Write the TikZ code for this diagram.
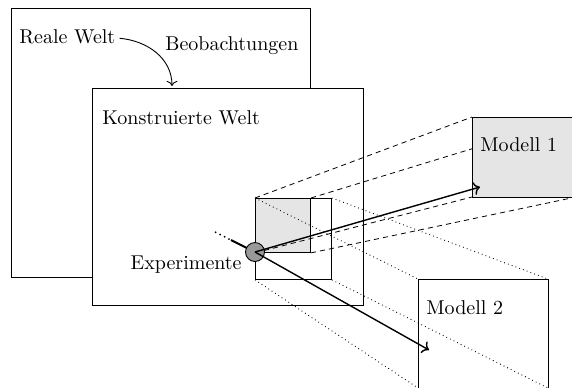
\documentclass[tikz,border=0pt]{standalone}
\usetikzlibrary{arrows.meta}
\definecolor{lightfill}{gray}{0.9}
\definecolor{expfill}{gray}{0.6}
\tikzset{
  frame/.style={draw=black, line width=0.45pt, inner sep=0pt, anchor=north west},
  label/.style={inner sep=0pt},
  proj/.style={line width=0.4pt, dash pattern=on 2.6pt off 2pt},
  projdot/.style={line width=0.45pt, dash pattern=on 0.4pt off 1.6pt},
  modelarrow/.style={->, line width=0.7pt},
}
\begin{document}
\begin{tikzpicture}[x=0.5pt, y=-0.5pt, font=\normalsize]
\useasboundingbox (0,0) rectangle (572,387);
\clip (0,0) rectangle (572,387);

% the real world and the constructed world
\node[frame, fill=white, minimum width=149.5pt, minimum height=134.5pt] (real) at (11,8) {};
\node[frame, fill=white, minimum width=135.5pt, minimum height=108.5pt] (konst) at (92,88) {};

% experiment window, its part inside the real world shaded
\node[frame, minimum width=38pt, minimum height=40.5pt] (win) at (255,198) {};
\node[frame, fill=lightfill, minimum width=27.5pt, minimum height=27pt] (part) at (255,198) {};

% corners of the two models
\coordinate (m1tl) at (472,117);
\coordinate (m1tr) at (576,117);
\coordinate (m1bl) at (472,197);
\coordinate (m1br) at (576,197);
\coordinate (m2tl) at (418,279);
\coordinate (m2tr) at (548,279);
\coordinate (m2bl) at (418,388);
\coordinate (m2br) at (548,388);

% projection of the shaded part onto model 1
\draw[proj] (part.north west) -- (m1tl);
\draw[proj] (part.north east) -- (m1tr);
\draw[proj] (part.south west) -- (m1bl);
\draw[proj] (part.south east) -- (m1br);

\node[frame, fill=lightfill, minimum width=52pt, minimum height=40pt] (m1) at (m1tl) {};
\node[frame, fill=white, minimum width=65pt, minimum height=54.5pt] (m2) at (m2tl) {};

% projection of the whole window onto model 2
\draw[projdot] (win.north west) -- (m2tl);
\draw[projdot] (win.north east) -- (m2tr);
\draw[projdot] (win.south west) -- (m2bl);
\draw[projdot] (win.south east) -- (m2br);

% labels
\node[label, anchor=base west] (rw) at (19,43) {Reale Welt};
\node[label, anchor=base west] (obs) at (165,50) {Beobachtungen};
\node[label, anchor=base west] (kw) at (102,124) {Konstruierte Welt};
\node[label, anchor=base west] (m1lab) at (480,151) {Modell 1};
\node[label, anchor=base west] (m2lab) at (426,314) {Modell 2};

% observations lead into the constructed world
\coordinate (obsend) at (172,86);
\draw[->, line width=0.45pt] ([xshift=2pt,yshift=-1pt]rw.east) to[out=-5, in=90] (obsend);

% incoming trajectory and the experiment
\coordinate (trajA) at (231,240);
\coordinate (trajB) at (229,239);
\coordinate (trajC) at (215,232);
\coordinate (expc) at (255,252);
\draw[line width=1pt] (expc) -- (trajA);
\draw[line width=1pt, line cap=round, dash pattern=on 0pt off 2.5pt] (trajB) -- (trajC);
\node[circle, draw=black, line width=0.45pt, fill=expfill, minimum size=9.5pt, inner sep=0pt] (exp) at (expc) {};
\node[label, anchor=base east] (explab) at (242,269) {Experimente};

% experiment results passed to the models
\coordinate (to1) at (480,187);
\coordinate (to2) at (429,350);
\draw[modelarrow] (exp.center) -- (to1);
\draw[modelarrow] (exp.center) -- (to2);
\end{tikzpicture}
\end{document}
